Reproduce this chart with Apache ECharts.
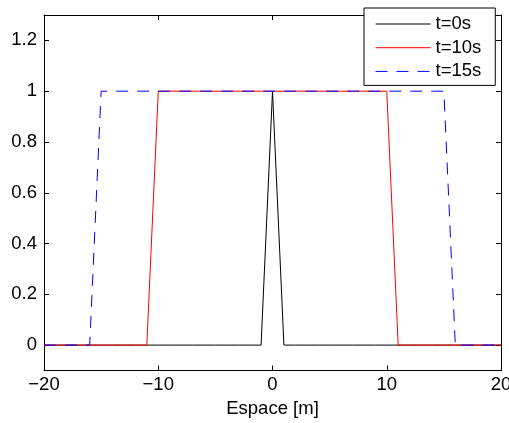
<!DOCTYPE html>
<html>
<head>
<meta charset="utf-8">
<script src="https://cdn.jsdelivr.net/npm/echarts@6/dist/echarts.min.js"></script>
<style>
html,body{margin:0;padding:0;background:#fff;}
#chart{width:509px;height:423px;}
</style>
</head>
<body>
<div id="chart"></div>
<script>
// Space positions [m]
var xPositions = [-20,-19,-18,-17,-16,-15,-14,-13,-12,-11,-10,-9,-8,-7,-6,-5,-4,-3,-2,-1,0,1,2,3,4,5,6,7,8,9,10,11,12,13,14,15,16,17,18,19,20];
// t = 0 s
var valuesT0  = [0,0,0,0,0,0,0,0,0,0,0,0,0,0,0,0,0,0,0,0,1,0,0,0,0,0,0,0,0,0,0,0,0,0,0,0,0,0,0,0,0];
// t = 10 s
var valuesT10 = [0,0,0,0,0,0,0,0,0,0,1,1,1,1,1,1,1,1,1,1,1,1,1,1,1,1,1,1,1,1,1,0,0,0,0,0,0,0,0,0,0];
// t = 15 s
var valuesT15 = [0,0,0,0,0,1,1,1,1,1,1,1,1,1,1,1,1,1,1,1,1,1,1,1,1,1,1,1,1,1,1,1,1,1,1,1,0,0,0,0,0];
var seriesNames = ['t=0s','t=10s','t=15s'];
var xTicks = [-20,-10,0,10,20];
var yTicks = [0,0.2,0.4,0.6,0.8,1,1.2];
var xLabel = 'Espace [m]';

function pairs(xs, ys){ return xs.map(function(x,i){ return [x, ys[i]]; }); }
function fmt(v){ var s = String(Math.round(v*10)/10); return s.replace('-', '\u2212'); }

var FONT = 'Liberation Sans, Arial, Helvetica, sans-serif';
var FS = 18.5;

var chart = echarts.init(document.getElementById('chart'), null, {renderer:'canvas'});
var axisLine = {show:true, onZero:false, lineStyle:{color:'#000', width:1}};
chart.setOption({
  animation:false,
  backgroundColor:'#fff',
  grid:{left:44, right:8, top:15, bottom:52.5, containLabel:false, outerBoundsMode:'none'},
  legend:{
    data:seriesNames,
    orient:'vertical',
    left:364, top:8,
    padding:[6,14,4,11],
    itemWidth:55, itemHeight:20, itemGap:3.7,
    itemTextGap:7,
    backgroundColor:'#fff',
    borderColor:'#000', borderWidth:1, borderRadius:0,
    itemStyle:{opacity:0},
    lineStyle:{width:1},
    textStyle:{fontFamily:FONT, fontSize:FS, color:'#000', lineHeight:20},
    selectedMode:false
  },
  xAxis:[{
    type:'value', position:'bottom', min:-20, max:20, interval:10,
    axisLine:axisLine,
    axisTick:{show:true, inside:true, length:5, lineStyle:{color:'#000'}, customValues:xTicks},
    axisLabel:{show:true, margin:5, fontFamily:FONT, fontSize:FS, color:'#000', formatter:fmt, customValues:xTicks},
    splitLine:{show:false},
    name:xLabel, nameLocation:'middle', nameGap:29,
    nameTextStyle:{fontFamily:FONT, fontSize:FS, color:'#000'}
  },{
    type:'value', position:'top', min:-20, max:20, interval:10,
    axisLine:axisLine,
    axisTick:{show:true, inside:true, length:5, lineStyle:{color:'#000'}, customValues:xTicks},
    axisLabel:{show:false},
    splitLine:{show:false}
  }],
  yAxis:[{
    type:'value', position:'left', min:-0.1, max:1.3,
    axisLine:axisLine,
    axisTick:{show:true, inside:true, length:5, lineStyle:{color:'#000'}, customValues:yTicks},
    axisLabel:{show:true, margin:7, fontFamily:FONT, fontSize:FS, color:'#000', formatter:fmt, customValues:yTicks},
    splitLine:{show:false}
  },{
    type:'value', position:'right', min:-0.1, max:1.3,
    axisLine:axisLine,
    axisTick:{show:true, inside:true, length:5, lineStyle:{color:'#000'}, customValues:yTicks},
    axisLabel:{show:false},
    splitLine:{show:false}
  }],
  series:[{
    name:seriesNames[0], type:'line', xAxisIndex:0, yAxisIndex:0,
    data:pairs(xPositions, valuesT0), symbol:'none', showSymbol:false,
    lineStyle:{color:'#000', width:1}, itemStyle:{color:'#000'}, z:2
  },{
    name:seriesNames[1], type:'line', xAxisIndex:0, yAxisIndex:0,
    data:pairs(xPositions, valuesT10), symbol:'none', showSymbol:false,
    lineStyle:{color:'#ff0000', width:1}, itemStyle:{color:'#ff0000'}, z:3
  },{
    name:seriesNames[2], type:'line', xAxisIndex:0, yAxisIndex:0,
    data:pairs(xPositions, valuesT15), symbol:'none', showSymbol:false,
    lineStyle:{color:'#0000ff', width:1, type:[12,9]}, itemStyle:{color:'#0000ff'}, z:4
  }]
});
</script>
</body>
</html>
